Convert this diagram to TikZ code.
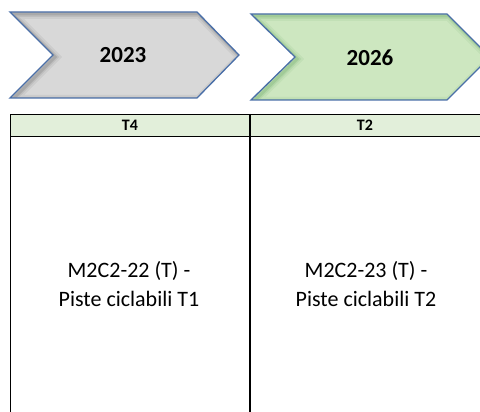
\documentclass[tikz,border=0pt]{standalone}
\usepackage{fontspec}
\setmainfont{Carlito}
\usepackage{tikz}

\definecolor{chevblue}{HTML}{4A6FA8}
\definecolor{chevgray}{HTML}{D8D8D8}
\definecolor{chevgreen}{HTML}{CDE7C0}
\definecolor{headgreen}{HTML}{E2EFDA}

\newcommand{\chevgrey}{(10,12) -- (197,12) -- (239,55) -- (197,98) -- (10,98) -- (53,55) -- cycle}
\newcommand{\chevgreenpath}{(251,14) -- (447,14) -- (490,57) -- (447,100) -- (251,100) -- (295,57) -- cycle}

\begin{document}
\begin{tikzpicture}[x=1pt,y=-1pt]

\clip (0,0) rectangle (480,412);

% chevrons
\fill [chevgray] \chevgrey;
\begin{scope}
\clip \chevgrey;
\foreach \w/\o in {10/0.05,6/0.07,3/0.1}
  \draw [black, opacity=\o, line width=\w pt, shift={(2,2)}] \chevgrey;
\end{scope}
\draw [chevblue, line width=1.3pt] \chevgrey;

\fill [chevgreen] \chevgreenpath;
\begin{scope}
\clip \chevgreenpath;
\foreach \w/\o in {10/0.05,6/0.07,3/0.1}
  \draw [black!60!green, opacity=\o, line width=\w pt, shift={(2,2)}] \chevgreenpath;
\end{scope}
\draw [chevblue, line width=1.3pt] \chevgreenpath;

\node [font=\fontsize{23}{27}\selectfont\bfseries] (y2023) at (123,55) {2023};
\node [font=\fontsize{23}{27}\selectfont\bfseries] (y2026) at (370,58) {2026};

% table
\filldraw [fill=headgreen, draw=black, line width=0.8pt] (10,114) rectangle (481,136);
\draw [black, line width=0.8pt] (10,136) -- (10,413);
\draw [black, line width=1.2pt] (250,114) -- (250,413);
\node [font=\fontsize{16}{18}\selectfont\bfseries] (t4) at (130,125) {T4};
\node [font=\fontsize{16}{18}\selectfont\bfseries] (t2) at (365,125) {T2};
\node [align=center, font=\fontsize{22}{29}\selectfont] (m22) at (129,284) {M2C2-22 (T) -\\Piste ciclabili T1};
\node [align=center, font=\fontsize{22}{29}\selectfont] (m23) at (366,284) {M2C2-23 (T) -\\Piste ciclabili T2};

\end{tikzpicture}
\end{document}
